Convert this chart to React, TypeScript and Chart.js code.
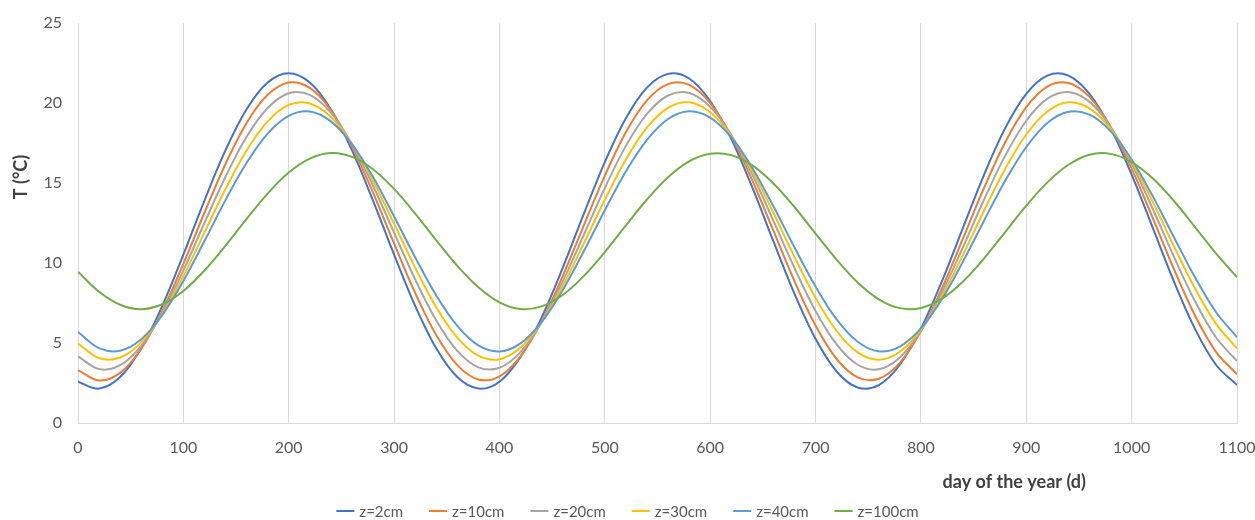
import React, { useEffect, useRef } from 'react';
import { Chart, registerables } from 'chart.js';

Chart.register(...registerables);

const FONT = "Lato, 'Open Sans', sans-serif";

// day of the year (x values shared by all series)
const days = [
  0, 20, 40, 60, 80, 100, 120, 140, 160, 180, 200, 220, 240, 260, 280, 300, 320, 340, 360, 380,
  400, 420, 440, 460, 480, 500, 520, 540, 560, 580, 600, 620, 640, 660, 680, 700, 720, 740, 760, 780,
  800, 820, 840, 860, 880, 900, 920, 940, 960, 980, 1000, 1020, 1040, 1060, 1080, 1100,
];

// soil temperature (°C)
const z2cm = [
  2.58, 2.15, 2.87, 4.67, 7.32, 10.52, 13.9, 17.05, 19.61, 21.28, 21.86, 21.28, 19.61, 17.05, 13.9, 10.52, 7.32, 4.67, 2.87, 2.15,
  2.58, 4.13, 6.59, 9.69, 13.06, 16.31, 19.05, 20.96, 21.82, 21.53, 20.12, 17.76, 14.72, 11.36, 8.08, 5.26, 3.22, 2.22, 2.37, 3.64,
  5.9, 8.87, 12.21, 15.53, 18.43, 20.57, 21.71, 21.71, 20.57, 18.43, 15.53, 12.21, 8.87, 5.9, 3.64, 2.37,
];
const z10cm = [
  3.3, 2.66, 3.13, 4.64, 7.0, 9.95, 13.14, 16.19, 18.75, 20.51, 21.28, 20.94, 19.56, 17.29, 14.4, 11.22, 8.13, 5.5, 3.62, 2.72,
  2.92, 4.17, 6.34, 9.18, 12.34, 15.46, 18.17, 20.16, 21.18, 21.13, 20.0, 17.93, 15.16, 12.02, 8.87, 6.09, 4.0, 2.85, 2.77, 3.76,
  5.73, 8.42, 11.54, 14.71, 17.55, 19.74, 21.03, 21.25, 20.38, 18.52, 15.9, 12.82, 9.64, 6.73, 4.45, 3.04,
];
const z20cm = [
  4.16, 3.37, 3.61, 4.82, 6.88, 9.54, 12.5, 15.39, 17.89, 19.69, 20.61, 20.51, 19.4, 17.43, 14.83, 11.9, 8.98, 6.41, 4.51, 3.48,
  3.45, 4.43, 6.3, 8.84, 11.75, 14.69, 17.32, 19.32, 20.47, 20.63, 19.76, 18.0, 15.53, 12.64, 9.69, 7.0, 4.91, 3.64, 3.36, 4.1,
  5.76, 8.16, 11.0, 13.97, 16.71, 18.89, 20.27, 20.69, 20.07, 18.51, 16.2, 13.39, 10.41, 7.63, 5.36, 3.87,
];
const z30cm = [
  4.97, 4.06, 4.09, 5.04, 6.81, 9.19, 11.9, 14.62, 17.03, 18.85, 19.88, 19.97, 19.13, 17.45, 15.13, 12.45, 9.71, 7.24, 5.34, 4.21,
  3.99, 4.72, 6.3, 8.55, 11.21, 13.95, 16.47, 18.47, 19.7, 20.04, 19.42, 17.94, 15.76, 13.14, 10.38, 7.82, 5.75, 4.41, 3.95, 4.45,
  5.84, 7.94, 10.52, 13.28, 15.88, 18.03, 19.47, 20.05, 19.66, 18.38, 16.36, 13.82, 11.07, 8.43, 6.21, 4.66,
];
const z40cm = [
  5.69, 4.68, 4.52, 5.24, 6.75, 8.88, 11.37, 13.93, 16.26, 18.09, 19.2, 19.47, 18.85, 17.43, 15.37, 12.91, 10.35, 7.97, 6.07, 4.85,
  4.47, 4.98, 6.31, 8.3, 10.73, 13.3, 15.72, 17.69, 19.0, 19.49, 19.09, 17.86, 15.94, 13.55, 10.98, 8.53, 6.48, 5.08, 4.48, 4.78,
  5.91, 7.75, 10.1, 12.66, 15.14, 17.25, 18.75, 19.45, 19.27, 18.24, 16.47, 14.18, 11.63, 9.12, 6.94, 5.36,
];
const z100cm = [
  9.46, 8.2, 7.39, 7.11, 7.42, 8.25, 9.53, 11.09, 12.76, 14.34, 15.65, 16.52, 16.87, 16.63, 15.86, 14.63, 13.09, 11.42, 9.82, 8.48,
  7.54, 7.12, 7.29, 8.0, 9.18, 10.68, 12.35, 13.97, 15.36, 16.35, 16.83, 16.74, 16.1, 14.97, 13.5, 11.84, 10.21, 8.78, 7.73, 7.18,
  7.19, 7.77, 8.84, 10.29, 11.93, 13.58, 15.04, 16.14, 16.77, 16.82, 16.31, 15.29, 13.89, 12.26, 10.6, 9.11,
];

const seriesLabels = ['z=2cm', 'z=10cm', 'z=20cm', 'z=30cm', 'z=40cm', 'z=100cm'];
const seriesValues = [z2cm, z10cm, z20cm, z30cm, z40cm, z100cm];
const seriesColors = ['#4472C4', '#ED7D31', '#A5A5A5', '#FFC000', '#5B9BD5', '#70AD47'];

const xTickValues = [0, 100, 200, 300, 400, 500, 600, 700, 800, 900, 1000, 1100];
const yTickValues = [0, 5, 10, 15, 20, 25];

const xTitle = 'day of the year (d)';
const yTitle = 'T (°C)';

const decorPlugin = {
  id: 'excelDecor',
  afterDraw(chart: any) {
    const { ctx, chartArea } = chart;
    ctx.save();
    // axis titles
    ctx.fillStyle = '#404040';
    ctx.font = `bold 18px ${FONT}`;
    ctx.textAlign = 'right';
    ctx.textBaseline = 'middle';
    ctx.fillText(xTitle, chartArea.right - 151, chartArea.bottom + 59);
    ctx.save();
    ctx.translate(chartArea.left - 57, chartArea.top + 154);
    ctx.rotate(-Math.PI / 2);
    ctx.textAlign = 'center';
    ctx.fillText(yTitle, 0, 0);
    ctx.restore();

    // legend
    const ds = chart.data.datasets;
    ctx.font = `15px ${FONT}`;
    const lineLen = 18;
    const gap = 5;
    const itemGap = 26;
    const widths = ds.map((d: any) => lineLen + gap + ctx.measureText(d.label).width);
    const total = widths.reduce((a: number, b: number) => a + b, 0) + itemGap * (ds.length - 1);
    let x = chart.width / 2 - total / 2;
    const y = chartArea.bottom + 88;
    ds.forEach((d: any, i: number) => {
      ctx.strokeStyle = d.borderColor;
      ctx.lineWidth = 2;
      ctx.beginPath();
      ctx.moveTo(x, y);
      ctx.lineTo(x + lineLen, y);
      ctx.stroke();
      ctx.fillStyle = '#595959';
      ctx.textAlign = 'left';
      ctx.textBaseline = 'middle';
      ctx.fillText(d.label, x + lineLen + gap, y + 1);
      x += widths[i] + itemGap;
    });
    ctx.restore();
  },
};

export default function App() {
  const canvasRef = useRef<HTMLCanvasElement | null>(null);

  useEffect(() => {
    document.body.style.margin = '0';
    const canvas = canvasRef.current;
    if (!canvas) return;
    const chart = new Chart(canvas, {
      type: 'line',
      data: {
        datasets: seriesValues.map((vals, i) => ({
          label: seriesLabels[i],
          data: days.map((d, j) => ({ x: d, y: vals[j] })),
          borderColor: seriesColors[i],
          backgroundColor: seriesColors[i],
          borderWidth: 2,
          pointRadius: 0,
          tension: 0.35,
          fill: false,
          order: seriesValues.length - i,
        })),
      },
      options: {
        responsive: false,
        animation: false,
        layout: { padding: { left: 0, right: 18, top: 23, bottom: 0 } },
        plugins: {
          legend: { display: false },
          tooltip: { enabled: false },
        },
        scales: {
          x: {
            type: 'linear',
            min: 0,
            max: 1100,
            afterBuildTicks: (scale: any) => {
              scale.ticks = xTickValues.map((v) => ({ value: v }));
            },
            afterFit: (scale: any) => {
              scale.height = 97;
              scale.paddingLeft = 0;
              scale.paddingRight = 0;
            },
            grid: { color: '#D9D9D9', lineWidth: 1, drawTicks: false },
            border: { color: '#D9D9D9', width: 1 },
            ticks: {
              padding: 15,
              color: '#595959',
              font: { family: FONT, size: 16 },
              maxRotation: 0,
              callback: (v: any) => String(v),
            },
          },
          y: {
            type: 'linear',
            min: 0,
            max: 25,
            afterBuildTicks: (scale: any) => {
              scale.ticks = yTickValues.map((v) => ({ value: v }));
            },
            afterFit: (scale: any) => {
              scale.width = 78;
              scale.paddingTop = 0;
              scale.paddingBottom = 0;
            },
            grid: { display: false, drawTicks: false },
            border: { display: false },
            ticks: {
              padding: 16,
              color: '#595959',
              font: { family: FONT, size: 16 },
              callback: (v: any) => String(v),
            },
          },
        },
      },
      plugins: [decorPlugin],
    });
    return () => chart.destroy();
  }, []);

  return (
    <div style={{ width: 1255, height: 520, background: '#fff' }}>
      <canvas ref={canvasRef} width={1255} height={520} />
    </div>
  );
}
